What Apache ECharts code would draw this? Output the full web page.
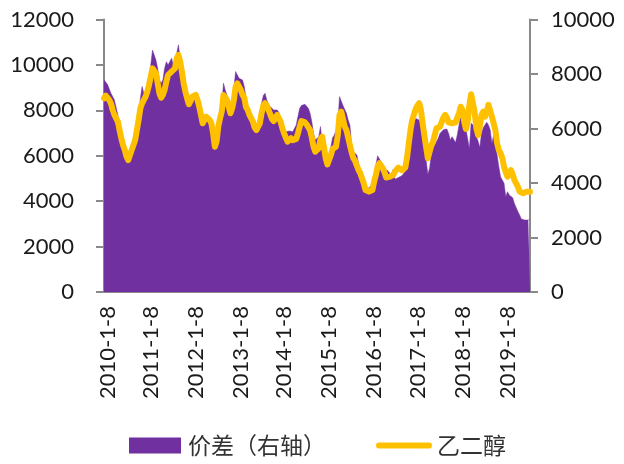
<!DOCTYPE html>
<html>
<head>
<meta charset="utf-8">
<script src="https://cdn.jsdelivr.net/npm/echarts@6/dist/echarts.min.js"></script>
<style>
  html, body { margin: 0; padding: 0; background: #fff; }
  #chart { width: 624px; height: 464px; }
</style>
</head>
<body>
<div id="chart"></div>
<script>
// Sampling window of the weekly-ish series (evenly spaced points)
const startDate = '2009-12-17';
const endDate = '2019-07-18';

// Years that carry an axis label, shown as "<year>-1-8"
const labelYears = [2010, 2011, 2012, 2013, 2014, 2015, 2016, 2017, 2018, 2019];

// Spread, read on the right axis (元/吨)
const spread = [
  7780, 7720, 7620, 7570, 7290, 7170, 7050, 7010, 6500, 6130,
  5760, 5460, 5210, 4910, 4720, 4780, 5150, 5460, 5640, 6010,
  6500, 7110, 7540, 7290, 7230, 7410, 7900, 8330, 8880, 8700,
  8510, 8210, 7780, 7660, 7780, 8210, 8450, 8330, 8390, 8580,
  8330, 8450, 8760, 9070, 8510, 8090, 7900, 7540, 7050, 6800,
  6920, 7110, 7170, 7170, 6990, 6680, 6370, 6070, 6070, 6310,
  6310, 6190, 6070, 5700, 5210, 5390, 6130, 6500, 6860, 7660,
  7410, 7230, 6740, 6500, 6860, 7480, 8090, 8030, 7840, 7840,
  7780, 7540, 7110, 6720, 6520, 6500, 6400, 6280, 6100, 6130,
  6500, 6920, 7210, 7290, 7050, 6890, 6800, 6740, 6680, 6640,
  6680, 6590, 6350, 6150, 6010, 5880, 5880, 5910, 5950, 5880,
  5950, 6130, 6440, 6740, 6840, 6890, 6890, 6840, 6740, 6560,
  6250, 5820, 5580, 5580, 5700, 6070, 5460, 5210, 4970, 4780,
  4910, 5330, 5660, 5760, 5820, 6130, 7170, 7230, 6840, 6800,
  6560, 6310, 6130, 5390, 5150, 5210, 5030, 4720, 4420, 4230,
  4050, 3870, 3810, 3810, 3870, 3990, 4290, 4660, 5000, 4970,
  4780, 4660, 4540, 4480, 4440, 4360, 4090, 4510, 4140, 4170,
  4200, 4230, 4270, 4290, 4420, 4600, 5090, 5580, 6010, 6250,
  6370, 6440, 6310, 6130, 5760, 5210, 4850, 4320, 4540, 5030,
  5270, 5390, 5330, 5640, 5820, 5880, 5950, 5950, 5980, 5820,
  5580, 5700, 5640, 5490, 5760, 6130, 6470, 6280, 6130, 5980,
  5910, 5270, 6190, 6230, 6070, 5700, 5540, 5300, 5820, 6030,
  6130, 6230, 6130, 5950, 5460, 5760, 5390, 5030, 4600, 4230,
  4110, 3990, 3500, 3680, 3560, 3620, 3460, 3250, 3100, 2950,
  2830, 2680, 2640, 2640, 2700, 2640, 2680
];

// Ethylene glycol price, read on the left axis (元/吨)
const meg = [
  8530, 8650, 8600, 8460, 8310, 8020, 7800, 7720, 7500, 7130,
  6770, 6470, 6250, 5960, 5810, 5890, 6250, 6470, 6690, 7130,
  7580, 8090, 8310, 8460, 8600, 8820, 9120, 9480, 9850, 9850,
  9630, 9190, 8750, 8560, 8680, 8900, 9260, 9560, 9630, 9700,
  9630, 9850, 10290, 10440, 10140, 9700, 9190, 8820, 8530, 8270,
  8410, 8600, 8680, 8680, 8460, 8160, 7800, 7430, 7430, 7720,
  7720, 7580, 7430, 6990, 6400, 6620, 7280, 7650, 7940, 8680,
  8600, 8460, 8160, 7870, 8090, 8460, 9040, 9190, 9120, 8900,
  8680, 8560, 8150, 8020, 7800, 7720, 7500, 7240, 7130, 7130,
  7430, 7870, 8210, 8310, 8210, 8020, 7820, 7620, 7530, 7470,
  7800, 7720, 7500, 7210, 6990, 6800, 6620, 6650, 6770, 6680,
  6620, 6740, 6990, 7280, 7530, 7580, 7470, 7380, 7330, 7130,
  6800, 6400, 6180, 6110, 6330, 6740, 6840, 6400, 5890, 5620,
  5640, 6030, 6300, 6250, 6400, 6910, 7800, 7940, 7620, 7280,
  7130, 6800, 6470, 6150, 5890, 5770, 5560, 5370, 5230, 5010,
  4790, 4490, 4420, 4420, 4420, 4490, 4860, 5150, 5520, 5670,
  5590, 5450, 5270, 5040, 5120, 5080, 5110, 5150, 5300, 5240,
  5480, 5560, 5360, 5330, 5480, 5920, 6550, 7130, 7580, 7820,
  8060, 8210, 8310, 8020, 7430, 6890, 6400, 5890, 5960, 6450,
  6620, 6910, 7210, 7210, 7280, 7280, 7680, 7800, 7680, 7470,
  7430, 7430, 7500, 7470, 7500, 7870, 8160, 8020, 7500, 7180,
  7500, 8240, 8710, 8790, 7940, 7210, 6910, 7280, 7800, 7940,
  7720, 7940, 8240, 8210, 7720, 7430, 7130, 6550, 6250, 6110,
  5890, 5520, 5270, 5080, 5180, 5370, 5180, 4930, 4860, 4640,
  4420, 4350, 4350, 4390, 4420, 4390, 4420
];

// Category dates, evenly spaced across the sampling window
const n = meg.length;
const t0 = Date.parse(startDate + 'T00:00:00Z');
const t1 = Date.parse(endDate + 'T00:00:00Z');
const dates = [];
for (let i = 0; i < n; i++) {
  const d = new Date(t0 + (t1 - t0) * i / (n - 1));
  dates.push(d.getUTCFullYear() + '-' + (d.getUTCMonth() + 1) + '-' + d.getUTCDate());
}

// For each labelled year, the sample closest to January 8
const labelIndex = {};
labelYears.forEach(function (y) {
  const target = Date.UTC(y, 0, 8);
  let best = 0, bestDist = Infinity;
  for (let i = 0; i < n; i++) {
    const dist = Math.abs(t0 + (t1 - t0) * i / (n - 1) - target);
    if (dist < bestDist) { bestDist = dist; best = i; }
  }
  labelIndex[best] = y + '-1-8';
});

const PURPLE = '#7030A0';
const YELLOW = '#FFC000';
const AXIS = '#898989';
const TEXT = '#1a1a1a';
const FONT = 'Lato, "Noto Sans CJK SC", sans-serif';
const plain = function (v) { return String(v); };

const chart = echarts.init(document.getElementById('chart'), null, { renderer: 'canvas' });

chart.setOption({
  animation: false,
  backgroundColor: '#ffffff',
  textStyle: { fontFamily: FONT },
  grid: { left: 104, right: 94, top: 19.5, bottom: 172, containLabel: false },
  legend: [
    {
      data: [{ name: '价差（右轴）', icon: 'rect' }],
      left: 124, top: 429,
      itemWidth: 52, itemHeight: 16, itemGap: 0,
      textStyle: { fontFamily: '"Noto Sans CJK SC", sans-serif', fontSize: 23, color: '#333', padding: [0, 0, 0, 2] }
    },
    {
      data: [{ name: '乙二醇', icon: 'path://M3,0 L53,0 A3,3 0 0 1 53,6 L3,6 A3,3 0 0 1 3,0 Z' }],
      left: 371, top: 429,
      itemWidth: 56, itemHeight: 16, itemGap: 0,
      textStyle: { fontFamily: '"Noto Sans CJK SC", sans-serif', fontSize: 23, color: '#333', padding: [0, 0, 0, 0] }
    }
  ],
  xAxis: {
    type: 'category',
    data: dates,
    boundaryGap: false,
    axisLine: { lineStyle: { color: AXIS, width: 2 } },
    axisTick: { show: false },
    splitLine: { show: false },
    axisLabel: {
      rotate: 90,
      margin: 14,
      fontSize: 22,
      color: TEXT,
      fontFamily: FONT,
      interval: function (idx) { return labelIndex[idx] !== undefined; },
      formatter: function (val, idx) { return labelIndex[idx] || ''; }
    }
  },
  yAxis: [
    {
      type: 'value',
      min: 0, max: 12000, interval: 2000,
      axisLine: { show: true, lineStyle: { color: AXIS, width: 2 } },
      axisTick: { show: true, length: 8, lineStyle: { color: AXIS, width: 2 } },
      splitLine: { show: false },
      axisLabel: { margin: 30, fontSize: 22, color: TEXT, fontFamily: FONT, formatter: plain }
    },
    {
      type: 'value',
      min: 0, max: 10000, interval: 2000,
      position: 'right',
      axisLine: { show: true, lineStyle: { color: AXIS, width: 2 } },
      axisTick: { show: true, length: 8, lineStyle: { color: AXIS, width: 2 } },
      splitLine: { show: false },
      axisLabel: { margin: 21, fontSize: 22, color: TEXT, fontFamily: FONT, formatter: plain }
    }
  ],
  series: [
    {
      name: '价差（右轴）',
      type: 'line',
      yAxisIndex: 1,
      data: spread,
      showSymbol: false,
      symbol: 'none',
      lineStyle: { width: 0.5, color: PURPLE },
      itemStyle: { color: PURPLE },
      areaStyle: { color: PURPLE, opacity: 1 },
      z: 2
    },
    {
      name: '乙二醇',
      type: 'line',
      yAxisIndex: 0,
      data: meg,
      showSymbol: false,
      symbol: 'none',
      lineStyle: { width: 6, color: YELLOW, cap: 'round', join: 'round' },
      itemStyle: { color: YELLOW },
      z: 3
    }
  ]
});
</script>
</body>
</html>
